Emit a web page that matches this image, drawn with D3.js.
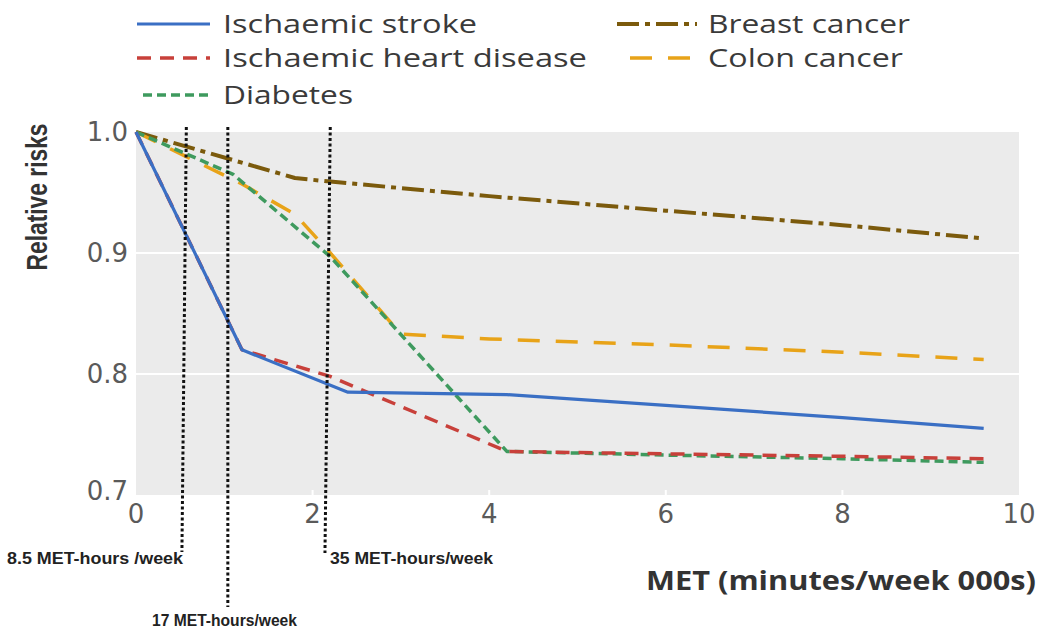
<!DOCTYPE html>
<html>
<head>
<meta charset="utf-8">
<script src="https://cdn.jsdelivr.net/npm/d3@7"></script>
<style>
  body { margin: 0; background: #fff; }
  svg { display: block; }
</style>
</head>
<body>
<div id="visual"></div>
<script>
// values (MET in thousands of minutes/week, relative risk)
const strokeX = [0, 1.2, 2.4, 4.2, 6, 8, 9.6];
const strokeY = [1.0, 0.82, 0.785, 0.783, 0.774, 0.764, 0.755];
const heartX = [0, 1.2, 2.2, 4.2, 6, 8, 9.6];
const heartY = [1.0, 0.82, 0.798, 0.736, 0.734, 0.732, 0.73];
const diabetesX = [0, 1.1, 2.2, 4.2, 6, 8, 9.6];
const diabetesY = [1.0, 0.965, 0.897, 0.736, 0.733, 0.73, 0.727];
const breastX = [0, 1.8, 2.2, 4, 6, 8, 9.6];
const breastY = [1.0, 0.962, 0.959, 0.947, 0.935, 0.923, 0.912];
const colonX = [0, 1.2, 1.8, 2.2, 3.0, 4, 6, 8, 9.6];
const colonY = [1.0, 0.957, 0.932, 0.9, 0.833, 0.829, 0.824, 0.818, 0.812];

const xTicks = [0, 2, 4, 6, 8, 10];
const yTicks = [0.7, 0.8, 0.9, 1.0];
const yTickLabels = ["0.7", "0.8", "0.9", "1.0"];

// reference lines: 8.5, 17 and 35 MET-hours/week
const markerLabels = ["8.5 MET-hours /week", "17 MET-hours/week", "35 MET-hours/week"];
const markerTop = [0.57, 1.04, 2.2];
const markerBottom = [0.52, 1.04, 2.14];

const W = 1039, H = 631;
const margin = {top: 132, left: 136, right: 20, bottom: 136};

const svg = d3.select("#visual")
  .append("svg")
    .attr("width", W)
    .attr("height", H);

const x = d3.scaleLinear().domain([0, 10]).range([margin.left, 1019]);
const y = d3.scaleLinear().domain([0.7, 1.0]).range([495, margin.top]);

// grey panel
svg.append("rect")
  .attr("x", x(0)).attr("y", y(1.0))
  .attr("width", x(10) - x(0))
  .attr("height", y(0.7) - y(1.0))
  .attr("fill", "#ebebeb");

// gridlines
svg.selectAll(".grid")
  .data([0.8, 0.9])
  .enter().append("line")
  .attr("x1", x(0)).attr("x2", x(10))
  .attr("y1", d => y(d)).attr("y2", d => y(d))
  .attr("stroke", "#fff")
  .attr("stroke-width", 2);

// little white ticks at the bottom of the panel
svg.selectAll(".xt")
  .data(xTicks.slice(1, -1))
  .enter().append("line")
  .attr("x1", d => x(d)).attr("x2", d => x(d))
  .attr("y1", y(0.7)).attr("y2", y(0.7) - 5)
  .attr("stroke", "#fff")
  .attr("stroke-width", 2);

// tick labels
svg.selectAll(".ylab")
  .data(yTicks)
  .enter().append("text")
  .attr("x", 128)
  .attr("y", d => y(d) + (d === 0.7 ? -4 : 0))
  .attr("dy", "0.36em")
  .attr("text-anchor", "end")
  .attr("font-family", "DejaVu Sans")
  .attr("font-size", 26)
  .attr("fill", "#5a5a5a")
  .text((d, i) => yTickLabels[i]);

svg.selectAll(".xlab")
  .data(xTicks)
  .enter().append("text")
  .attr("x", d => x(d))
  .attr("y", 523)
  .attr("text-anchor", "middle")
  .attr("font-family", "DejaVu Sans")
  .attr("font-size", 26)
  .attr("fill", "#5a5a5a")
  .text(d => d);

// axis titles
svg.append("text")
  .attr("transform", "translate(47,197) rotate(-90)")
  .attr("text-anchor", "middle")
  .attr("font-family", "Liberation Sans")
  .attr("font-weight", "bold")
  .attr("font-size", 30)
  .attr("fill", "#333")
  .attr("textLength", 147)
  .attr("lengthAdjust", "spacingAndGlyphs")
  .text("Relative risks");

svg.append("text")
  .attr("x", 646)
  .attr("y", 590)
  .attr("font-family", "Open Sans")
  .attr("font-weight", "bold")
  .attr("font-size", 27)
  .attr("fill", "#333")
  .attr("textLength", 390)
  .attr("lengthAdjust", "spacingAndGlyphs")
  .text("MET (minutes/week 000s)");

// series
const series = [
  {name: "Breast cancer", xs: breastX, ys: breastY, color: "#7b5a0c", dash: "22,6,5,6", width: 4},
  {name: "Colon cancer", xs: colonX, ys: colonY, color: "#e8a318", dash: "22,16", width: 3.5},
  {name: "Diabetes", xs: diabetesX, ys: diabetesY, color: "#3e9a5e", dash: "9,5", width: 3.5},
  {name: "Ischaemic heart disease", xs: heartX, ys: heartY, color: "#c8403a", dash: "14,9", width: 3.5},
  {name: "Ischaemic stroke", xs: strokeX, ys: strokeY, color: "#3a6fc4", dash: null, width: 3.2}
];

const line = d3.line().x(d => x(d[0])).y(d => y(d[1]));

svg.selectAll(".series")
  .data(series)
  .enter().append("path")
  .attr("d", s => line(s.xs.map((v, i) => [v, s.ys[i]])))
  .attr("fill", "none")
  .attr("stroke", s => s.color)
  .attr("stroke-width", s => s.width)
  .attr("stroke-dasharray", s => s.dash)
  .attr("stroke-linejoin", "round");

// dotted reference lines and their labels
const markerEnd = [57, 112, 58];
svg.selectAll(".marker")
  .data(markerTop)
  .enter().append("line")
  .attr("x1", d => x(d))
  .attr("y1", y(1.0) - 5)
  .attr("x2", (d, i) => x(markerBottom[i]))
  .attr("y2", (d, i) => y(0.7) + markerEnd[i])
  .attr("stroke", "#111")
  .attr("stroke-width", 3)
  .attr("stroke-dasharray", "3,2.5");

const markerText = [
  {x: 7, y: 564, w: 176},
  {x: 152, y: 626, w: 145},
  {x: 330, y: 564, w: 163}
];
svg.selectAll(".mlab")
  .data(markerLabels)
  .enter().append("text")
  .attr("x", (d, i) => markerText[i].x)
  .attr("y", (d, i) => markerText[i].y)
  .attr("font-family", "Liberation Sans")
  .attr("font-weight", "bold")
  .attr("font-size", 16)
  .attr("fill", "#222")
  .attr("textLength", (d, i) => markerText[i].w)
  .attr("lengthAdjust", "spacingAndGlyphs")
  .text(d => d);

// legend
const legendOrder = ["Ischaemic stroke", "Breast cancer", "Ischaemic heart disease", "Colon cancer", "Diabetes"];
const legendPos = {
  "Ischaemic stroke": {x1: 137, x2: 210, tx: 223, y: 24, w: 254},
  "Ischaemic heart disease": {x1: 137, x2: 210, tx: 223, y: 58, w: 364},
  "Diabetes": {x1: 143, x2: 210, tx: 223, y: 95, w: 130},
  "Breast cancer": {x1: 617, x2: 697, tx: 708, y: 24, w: 202},
  "Colon cancer": {x1: 630, x2: 697, tx: 708, y: 58, w: 195}
};

const legend = svg.append("g");
legendOrder.forEach(name => {
  const s = series.find(d => d.name === name);
  const p = legendPos[name];
  legend.append("line")
    .attr("x1", p.x1).attr("x2", p.x2)
    .attr("y1", p.y).attr("y2", p.y)
    .attr("stroke", s.color)
    .attr("stroke-width", s.width)
    .attr("stroke-dasharray", s.dash);
  legend.append("text")
    .attr("x", p.tx)
    .attr("y", p.y + 9)
    .attr("font-family", "Open Sans")
    .attr("font-size", 25)
    .attr("fill", "#3a3a3a")
    .attr("textLength", p.w)
    .attr("lengthAdjust", "spacingAndGlyphs")
    .text(name);
});
</script>
</body>
</html>
